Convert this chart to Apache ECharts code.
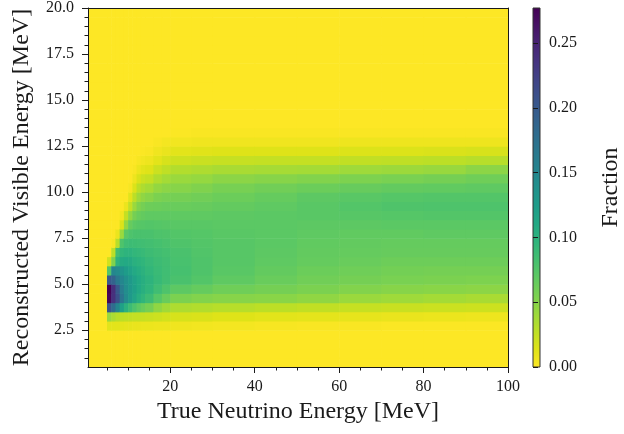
<!DOCTYPE html>
<html>
<head>
<meta charset="utf-8">
<script src="https://cdn.jsdelivr.net/npm/echarts@6/dist/echarts.min.js"></script>
<style>
  html, body { margin: 0; padding: 0; background: #ffffff; }
  #chart { width: 624px; height: 434px; }
</style>
</head>
<body>
<div id="chart"></div>
<script>
// Bin edges of the response matrix (MeV)
const xEdges = [0.5, 5, 6, 7, 8, 9, 10, 11, 12, 13, 14, 16, 18, 20, 25, 30, 40, 50, 60, 70, 80, 90, 100];
const yEdges = [0.5, 1.0, 1.5, 2.0, 2.5, 3.0, 3.5, 4.0, 4.5, 5.0, 5.5, 6.0, 6.5, 7.0, 7.5, 8.0, 8.5, 9.0, 9.5, 10.0,
                10.5, 11.0, 11.5, 12.0, 12.5, 13.0, 13.5, 14.0, 14.5, 15.0, 15.5, 16.0, 16.5, 17.0, 17.5, 18.0, 18.5, 19.0, 19.5, 20.0];

// Fraction per true-energy bin (one array per x bin, reconstructed-energy bins from 0.5 MeV upward)
const fraction = [
  [0,0,0,0, 0,0,0,0,0,0,0,0,0,0,0,0,0,0,0,0,0,0,0,0,0,0, 0,0,0,0,0,0,0,0,0,0,0,0,0],
  [0,0,0,0, 0.012,0.042,0.205,0.272,0.277,0.200,0.075,0.020,0,0,0,0,0,0,0,0,0,0,0,0,0,0, 0,0,0,0,0,0,0,0,0,0,0,0,0],
  [0,0,0,0, 0.012,0.035,0.180,0.238,0.240,0.190,0.150,0.053,0.028,0.003,0,0,0,0,0,0,0,0,0,0,0,0, 0,0,0,0,0,0,0,0,0,0,0,0,0],
  [0,0,0,0, 0.012,0.030,0.150,0.210,0.200,0.165,0.145,0.100,0.085,0.030,0.008,0,0,0,0,0,0,0,0,0,0,0, 0,0,0,0,0,0,0,0,0,0,0,0,0],
  [0,0,0,0, 0.011,0.028,0.120,0.170,0.160,0.150,0.135,0.108,0.095,0.078,0.042,0.015,0.004,0,0,0,0,0,0,0,0,0, 0,0,0,0,0,0,0,0,0,0,0,0,0],
  [0,0,0,0, 0.010,0.027,0.100,0.145,0.142,0.138,0.125,0.110,0.098,0.086,0.072,0.045,0.025,0.008,0,0,0,0,0,0,0,0, 0,0,0,0,0,0,0,0,0,0,0,0,0],
  [0,0,0,0, 0.010,0.026,0.088,0.128,0.130,0.128,0.118,0.108,0.098,0.088,0.078,0.065,0.045,0.025,0.012,0.003,0,0,0,0,0,0, 0,0,0,0,0,0,0,0,0,0,0,0,0],
  [0,0,0,0, 0.009,0.025,0.078,0.115,0.120,0.118,0.110,0.102,0.095,0.087,0.080,0.071,0.058,0.042,0.028,0.015,0.007,0.002,0,0,0,0, 0,0,0,0,0,0,0,0,0,0,0,0,0],
  [0,0,0,0, 0.009,0.025,0.070,0.104,0.110,0.110,0.105,0.099,0.093,0.086,0.080,0.073,0.064,0.053,0.040,0.028,0.016,0.008,0.003,0,0,0, 0,0,0,0,0,0,0,0,0,0,0,0,0],
  [0,0,0,0, 0.008,0.024,0.064,0.096,0.103,0.104,0.100,0.096,0.091,0.085,0.080,0.074,0.067,0.058,0.046,0.034,0.022,0.012,0.005,0.001,0,0, 0,0,0,0,0,0,0,0,0,0,0,0,0],
  [0,0,0,0, 0.008,0.023,0.058,0.088,0.096,0.098,0.095,0.092,0.088,0.084,0.080,0.075,0.069,0.062,0.050,0.038,0.025,0.014,0.007,0.002,0,0, 0,0,0,0,0,0,0,0,0,0,0,0,0],
  [0,0,0,0, 0.007,0.021,0.046,0.074,0.086,0.091,0.090,0.088,0.085,0.082,0.078,0.074,0.069,0.063,0.055,0.045,0.033,0.022,0.012,0.006,0.002,0, 0,0,0,0,0,0,0,0,0,0,0,0,0],
  [0,0,0,0, 0.007,0.019,0.039,0.064,0.078,0.085,0.086,0.085,0.083,0.080,0.077,0.073,0.069,0.064,0.057,0.048,0.038,0.027,0.017,0.009,0.004,0, 0,0,0,0,0,0,0,0,0,0,0,0,0],
  [0,0,0,0, 0.006,0.017,0.034,0.055,0.070,0.080,0.082,0.081,0.080,0.077,0.075,0.072,0.069,0.064,0.058,0.050,0.042,0.032,0.021,0.012,0.005,0.001, 0,0,0,0,0,0,0,0,0,0,0,0,0],
  [0,0,0,0, 0.005,0.016,0.032,0.052,0.066,0.075,0.077,0.077,0.076,0.075,0.074,0.072,0.069,0.065,0.060,0.053,0.044,0.034,0.023,0.013,0.006,0.002, 0,0,0,0,0,0,0,0,0,0,0,0,0],
  [0,0,0,0, 0.004,0.014,0.030,0.050,0.061,0.069,0.072,0.073,0.073,0.073,0.072,0.071,0.070,0.067,0.063,0.057,0.048,0.036,0.024,0.014,0.006,0.002, 0,0,0,0,0,0,0,0,0,0,0,0,0],
  [0,0,0,0, 0.003,0.012,0.028,0.049,0.058,0.064,0.067,0.069,0.070,0.071,0.071,0.071,0.071,0.069,0.066,0.060,0.050,0.037,0.025,0.014,0.006,0.002, 0,0,0,0,0,0,0,0,0,0,0,0,0],
  [0,0,0,0, 0.002,0.011,0.026,0.046,0.055,0.060,0.063,0.066,0.067,0.068,0.069,0.070,0.072,0.072,0.070,0.063,0.052,0.038,0.025,0.014,0.006,0.002, 0,0,0,0,0,0,0,0,0,0,0,0,0],
  [0,0,0,0, 0.002,0.010,0.024,0.042,0.052,0.058,0.061,0.064,0.066,0.067,0.068,0.070,0.073,0.075,0.072,0.065,0.054,0.040,0.026,0.015,0.007,0.002, 0,0,0,0,0,0,0,0,0,0,0,0,0],
  [0,0,0,0, 0.001,0.009,0.023,0.040,0.050,0.056,0.059,0.062,0.065,0.066,0.068,0.071,0.074,0.077,0.074,0.067,0.056,0.041,0.027,0.015,0.007,0.002, 0,0,0,0,0,0,0,0,0,0,0,0,0],
  [0,0,0,0, 0.001,0.008,0.022,0.038,0.049,0.055,0.058,0.062,0.065,0.066,0.069,0.071,0.075,0.078,0.075,0.068,0.058,0.043,0.028,0.016,0.007,0.002, 0,0,0,0,0,0,0,0,0,0,0,0,0],
  [0,0,0,0, 0.001,0.007,0.021,0.036,0.048,0.054,0.058,0.062,0.065,0.066,0.069,0.071,0.075,0.078,0.075,0.069,0.061,0.048,0.030,0.017,0.007,0.002, 0,0,0,0,0,0,0,0,0,0,0,0,0]
];

const fractionMax = 0.277;

// Tick positions
const xMajorTicks = [20, 40, 60, 80, 100];
const xMinorTicks = [5, 10, 15, 25, 30, 35, 45, 50, 55, 65, 70, 75, 85, 90, 95];
const yMajorTicks = [2.5, 5.0, 7.5, 10.0, 12.5, 15.0, 17.5, 20.0];
const yMinorTicks = [1.0, 1.5, 2.0, 3.0, 3.5, 4.0, 4.5, 5.5, 6.0, 6.5, 7.0, 8.0, 8.5, 9.0, 9.5,
                     10.5, 11.0, 11.5, 12.0, 13.0, 13.5, 14.0, 14.5, 15.5, 16.0, 16.5, 17.0, 18.0, 18.5, 19.0, 19.5];
const colorbarTicks = [0, 0.05, 0.10, 0.15, 0.20, 0.25];

// Reversed viridis: zero is yellow, the maximum is dark purple
const viridisReversed = ['#fde725', '#dfe318', '#bddf26', '#9bd93c', '#7ad151', '#5ec962', '#44bf70',
  '#2fb47c', '#22a884', '#1e9c89', '#21918c', '#25848e', '#2a788e', '#2f6c8e', '#355f8d', '#3b528b',
  '#414487', '#463480', '#482475', '#471365', '#440154'];

const cells = [];
for (let i = 0; i < fraction.length; i++) {
  for (let j = 0; j < fraction[i].length; j++) {
    cells.push([xEdges[i], xEdges[i + 1], yEdges[j], yEdges[j + 1], fraction[i][j]]);
  }
}

const FONT = "'Liberation Serif', 'DejaVu Serif', serif";
const INK = '#1a1a1a';

function renderCell(params, api) {
  const p0 = api.coord([api.value(0), api.value(2)]);
  const p1 = api.coord([api.value(1), api.value(3)]);
  return {
    type: 'rect',
    shape: { x: p0[0], y: p1[1], width: p1[0] - p0[0] + 0.6, height: p0[1] - p1[1] + 0.6 },
    style: { fill: api.visual('color') }
  };
}

function renderColorbar(params, api) {
  const p0 = api.coord([api.value(0), api.value(2)]);
  const p1 = api.coord([api.value(1), api.value(3)]);
  const stops = viridisReversed.map((c, k) => ({ offset: k / (viridisReversed.length - 1), color: c }));
  return {
    type: 'rect',
    shape: { x: p0[0], y: p1[1], width: p1[0] - p0[0], height: p0[1] - p1[1] },
    style: {
      fill: new echarts.graphic.LinearGradient(0, 1, 0, 0, stops),
      stroke: '#333', lineWidth: 1
    }
  };
}

const chart = echarts.init(document.getElementById('chart'), null, { renderer: 'canvas' });

const hiddenLine = { show: false };
chart.setOption({
  animation: false,
  backgroundColor: '#ffffff',
  grid: [
    { left: 88, top: 8, width: 420, height: 359 },
    { left: 533, top: 8, width: 19, height: 359 }
  ],
  xAxis: [
    {
      gridIndex: 0, type: 'value', min: 0.5, max: 100, position: 'bottom', z: 10,
      name: 'True Neutrino Energy [MeV]', nameLocation: 'middle', nameGap: 31,
      nameTextStyle: { fontFamily: FONT, fontSize: 24, color: INK },
      axisLine: { show: true, lineStyle: { color: INK, width: 1 } },
      axisTick: { show: true, length: 6, customValues: xMajorTicks, lineStyle: { color: INK, width: 1 } },
      axisLabel: { customValues: xMajorTicks, margin: 12, fontFamily: FONT, fontSize: 16, color: INK },
      splitLine: { show: false }
    },
    {
      gridIndex: 0, type: 'value', min: 0.5, max: 100, position: 'bottom', z: 10,
      axisLine: hiddenLine,
      axisTick: { show: true, length: 3.5, customValues: xMinorTicks, lineStyle: { color: INK, width: 1 } },
      axisLabel: { show: false }, splitLine: { show: false }
    },
    {
      gridIndex: 0, type: 'value', min: 0.5, max: 100, position: 'top', z: 10,
      axisLine: { show: true, lineStyle: { color: INK, width: 1 } },
      axisTick: { show: false }, axisLabel: { show: false }, splitLine: { show: false }
    },
    {
      gridIndex: 1, type: 'value', min: 0, max: 1, show: false
    }
  ],
  yAxis: [
    {
      gridIndex: 0, type: 'value', min: 0.5, max: 20, position: 'left', z: 10,
      name: 'Reconstructed Visible Energy [MeV]', nameLocation: 'middle', nameGap: 54,
      nameTextStyle: { fontFamily: FONT, fontSize: 24, color: INK },
      axisLine: { show: true, lineStyle: { color: INK, width: 1 } },
      axisTick: { show: true, length: 6, customValues: yMajorTicks, lineStyle: { color: INK, width: 1 } },
      axisLabel: { customValues: yMajorTicks, margin: 14, fontFamily: FONT, fontSize: 16, color: INK,
                   formatter: v => v.toFixed(1) },
      splitLine: { show: false }
    },
    {
      gridIndex: 0, type: 'value', min: 0.5, max: 20, position: 'left', z: 10,
      axisLine: hiddenLine,
      axisTick: { show: true, length: 3.5, customValues: yMinorTicks, lineStyle: { color: INK, width: 1 } },
      axisLabel: { show: false }, splitLine: { show: false }
    },
    {
      gridIndex: 0, type: 'value', min: 0.5, max: 20, position: 'right', z: 10,
      axisLine: { show: true, lineStyle: { color: INK, width: 1 } },
      axisTick: { show: false }, axisLabel: { show: false }, splitLine: { show: false }
    },
    {
      gridIndex: 1, type: 'value', min: 0, max: fractionMax, position: 'right', z: 10,
      name: 'Fraction', nameLocation: 'middle', nameGap: 59, nameRotate: 90,
      nameTextStyle: { fontFamily: FONT, fontSize: 24, color: INK },
      axisLine: { show: false },
      axisTick: { show: true, length: 5, customValues: colorbarTicks, lineStyle: { color: INK, width: 1 } },
      axisLabel: { customValues: colorbarTicks, margin: 9, fontFamily: FONT, fontSize: 16, color: INK,
                   formatter: v => v.toFixed(2) },
      splitLine: { show: false }
    }
  ],
  visualMap: {
    type: 'continuous', show: false, min: 0, max: fractionMax, dimension: 4, seriesIndex: 0,
    inRange: { color: viridisReversed }
  },
  series: [
    {
      type: 'custom', xAxisIndex: 0, yAxisIndex: 0,
      encode: { x: [0, 1], y: [2, 3] },
      renderItem: renderCell,
      data: cells
    },
    {
      type: 'custom', xAxisIndex: 3, yAxisIndex: 3,
      encode: { x: [0, 1], y: [2, 3] },
      renderItem: renderColorbar,
      data: [[0, 1, 0, fractionMax]]
    }
  ]
});
</script>
</body>
</html>
